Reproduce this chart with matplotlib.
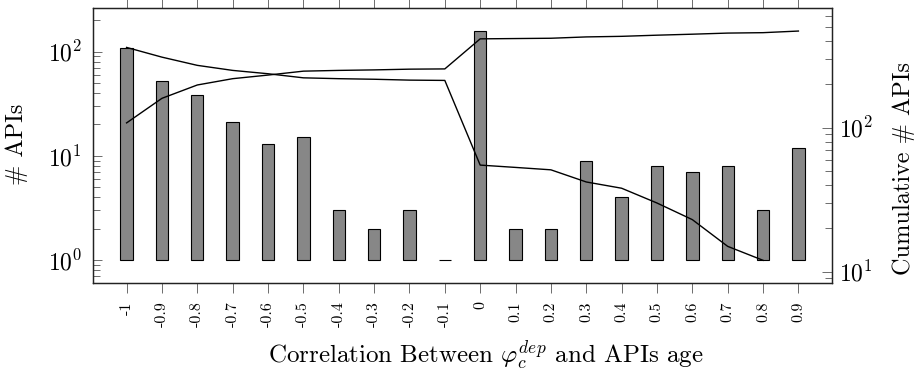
import matplotlib
matplotlib.use("Agg")
import matplotlib.pyplot as plt

plt.rcParams['font.family'] = 'serif'
plt.rcParams['font.serif'] = ['cmr10', 'DejaVu Serif']
plt.rcParams['mathtext.fontset'] = 'cm'
plt.rcParams['axes.formatter.use_mathtext'] = True
plt.rcParams['axes.unicode_minus'] = False

# Data
corr = [-1.0, -0.9, -0.8, -0.7, -0.6, -0.5, -0.4, -0.3, -0.2, -0.1,
        0.0, 0.1, 0.2, 0.3, 0.4, 0.5, 0.6, 0.7, 0.8, 0.9]
tick_labels = ['-1', '-0.9', '-0.8', '-0.7', '-0.6', '-0.5', '-0.4', '-0.3', '-0.2', '-0.1',
               '0', '0.1', '0.2', '0.3', '0.4', '0.5', '0.6', '0.7', '0.8', '0.9']
apis = [108, 52, 38, 21, 13, 15, 3, 2, 3, 1,
        158, 2, 2, 9, 4, 8, 7, 8, 3, 12]
cum_up = [108, 160, 198, 219, 232, 247, 250, 252, 255, 256,
          414, 416, 418, 427, 431, 439, 446, 454, 457, 469]
corr_down = [-1.0, -0.9, -0.8, -0.7, -0.6, -0.5, -0.4, -0.3, -0.2, -0.1,
             0.0, 0.1, 0.2, 0.3, 0.4, 0.5, 0.6, 0.7, 0.8]
cum_down = [361, 309, 271, 250, 237, 222, 219, 217, 214, 213,
            55, 53, 51, 42, 38, 30, 23, 15, 12]

W, H = 914, 373
fig = plt.figure(figsize=(W / 100, H / 100), dpi=100)
ax = fig.add_axes([93 / W, 90 / H, 739 / W, 275 / H])
ax2 = ax.twinx()

ax.bar(corr, [a - 1 for a in apis], bottom=1, width=0.035, color='#878787',
       edgecolor='black', linewidth=0.8, zorder=2)
ax.set_yscale('log')
ax.set_ylim(0.6, 263)
ax.set_xlim(-1.095, 0.995)
ax.set_xticks(corr)
ax.set_xticklabels(tick_labels, rotation=90)

ax2.plot(corr, cum_up, color='black', linewidth=1.0)
ax2.plot(corr_down, cum_down, color='black', linewidth=1.0)
ax2.set_yscale('log')
ax2.set_ylim(8.35, 678)

for a in (ax, ax2):
    for s in a.spines.values():
        s.set_linewidth(0.9)
        s.set_color('#222222')

ax.tick_params(axis='x', which='both', direction='out', top=True, bottom=True,
               length=7.2, width=0.6, color='#555555', labelsize=11.5, pad=6)
ax.tick_params(axis='y', which='major', direction='in', length=6.5, width=0.6,
               color='#555555', labelsize=17, pad=8)
ax.tick_params(axis='y', which='minor', direction='in', length=5, width=0.6,
               color='#555555')
ax2.tick_params(axis='y', which='major', direction='in', length=7, width=0.6,
                color='#555555', labelsize=17, pad=5)
ax2.tick_params(axis='y', which='minor', direction='in', length=5, width=0.6,
                color='#555555')

ax.set_ylabel('# APIs', fontsize=17.5)
ax.yaxis.set_label_coords(-0.088, 0.505)
ax2.set_ylabel('Cumulative # APIs', fontsize=17.5)
ax2.yaxis.set_label_coords(1.0825, 0.418)
ax.set_xlabel(r'Correlation Between $\varphi_c^{dep}$ and APIs age', fontsize=18)
ax.xaxis.set_label_coords(0.532, -0.202)

fig.savefig('out.png', dpi=100)
